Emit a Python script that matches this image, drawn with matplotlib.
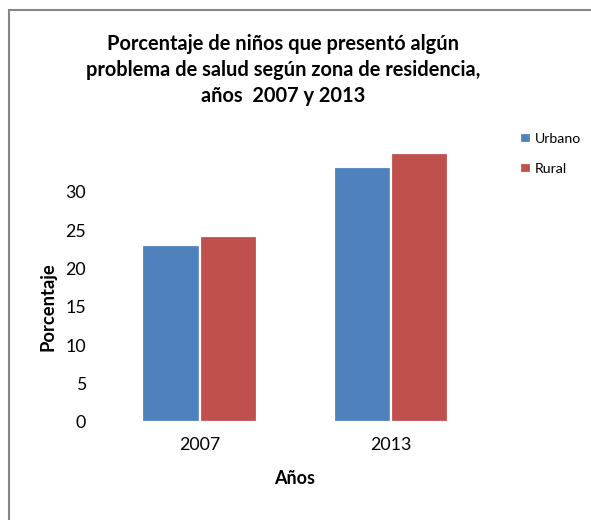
import matplotlib
matplotlib.use("Agg")
import matplotlib.pyplot as plt
from matplotlib.patches import Rectangle
import numpy as np

categories = ["2007", "2013"]
urbano = [23.1, 33.3]
rural = [24.2, 35.1]
series_names = ["Urbano", "Rural"]
yticks = [0, 5, 10, 15, 20, 25, 30]
title_lines = ["Porcentaje de niños que presentó algún",
               "problema de salud según zona de residencia,",
               "años  2007 y 2013"]

FONT = "Lato"
W, H = 591, 520
fig = plt.figure(figsize=(W / 100, H / 100), dpi=100)
fig.patch.set_facecolor("white")

def fx(px):
    return px / W

def fy(py):
    return 1 - py / H

# outer chart frame (only top and left edges fall inside the picture)
fig.add_artist(Rectangle((fx(9), fy(560)), fx(640) - fx(9), fy(10) - fy(560),
                         transform=fig.transFigure, fill=False,
                         edgecolor="#868686", linewidth=1.5, clip_on=False))

ax_l, ax_r, ax_t, ax_b = 104, 486.7, 152, 422
ax = fig.add_axes([fx(ax_l), fy(ax_b), fx(ax_r) - fx(ax_l), fy(ax_t) - fy(ax_b)])
ax.set_facecolor("none")

x = np.arange(len(categories))
w = 0.30
b1 = ax.bar(x - w / 2, urbano, w, color="#4F81BD", edgecolor="white", linewidth=1.6, label=series_names[0])
b2 = ax.bar(x + w / 2, rural, w, color="#C0504D", edgecolor="white", linewidth=1.6, label=series_names[1])

ax.set_xlim(-0.5, 1.5)
ax.set_ylim(0, 35.2)
ax.set_yticks(yticks)
ax.set_yticklabels([str(t) for t in yticks], fontfamily=FONT, fontsize=12.8)
ax.set_xticks(x)
ax.set_xticklabels(categories, fontfamily=FONT, fontsize=12.8)
ax.tick_params(axis="both", length=0)
ax.tick_params(axis="y", pad=13)
ax.tick_params(axis="x", pad=11)
for s in ax.spines.values():
    s.set_visible(False)

# titles
baselines = [49.5, 75.5, 101.5]
for line, yb in zip(title_lines, baselines):
    fig.text(fx(283), fy(yb), line, ha="center", va="baseline",
             fontfamily=FONT, fontweight="bold", fontsize=14.4)

fig.text(fx(295), fy(479), "Años", ha="center", va="center",
         fontfamily=FONT, fontweight="bold", fontsize=13)
fig.text(fx(48), fy(307), "Porcentaje", ha="center", va="center", rotation=90,
         fontfamily=FONT, fontweight="bold", fontsize=13.2)

# legend
leg = ax.legend(handles=[b1, b2], loc="upper left", bbox_to_anchor=(fx(513), fy(126)),
                bbox_transform=fig.transFigure, frameon=False, handlelength=0.75,
                handleheight=0.75, handletextpad=0.3, labelspacing=1.25,
                prop={"family": FONT, "size": 10.2}, borderpad=0)

fig.savefig("out.png", dpi=100)
